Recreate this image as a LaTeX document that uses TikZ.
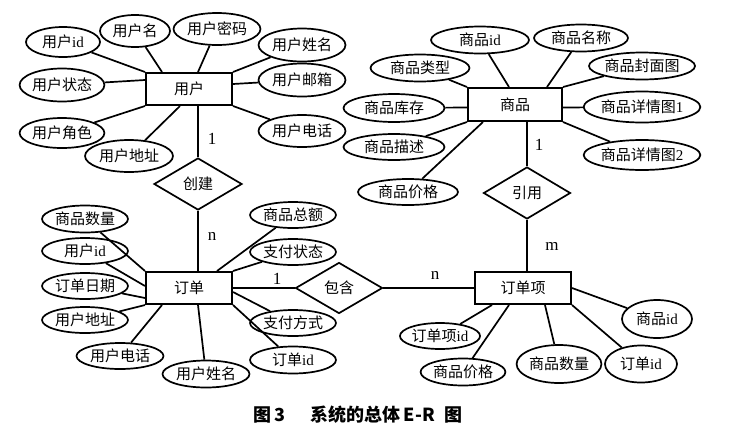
\documentclass[tikz,border=0pt]{standalone}
\usepackage{fontspec}
\setmainfont{Liberation Serif}
\newfontfamily\cjk{Noto Sans CJK SC}
\usetikzlibrary{shapes.geometric,calc}
\tikzset{
 ent/.style 2 args={draw, line width=2pt, minimum width=#1pt, minimum height=#2pt, inner sep=0pt, font=\cjk\fontsize{15}{17}\selectfont},
 attr/.style 2 args={draw, ellipse, line width=1.7pt, minimum width=#1pt, minimum height=#2pt, inner sep=0pt, font=\cjk\fontsize{15}{17}\selectfont},
 rel/.style 2 args={draw, diamond, line width=1.7pt, minimum width=#1pt, minimum height=#2pt, inner sep=0pt, font=\cjk\fontsize{15}{17}\selectfont},
 card/.style={inner sep=0pt, font=\fontsize{17}{19}\selectfont},
 lnk/.style={line width=1.7pt},
 capt/.style={inner sep=0pt, font=\cjk\bfseries\fontsize{18}{20}\selectfont},
}
\begin{document}
\begin{tikzpicture}[x=1pt,y=-1pt]
\useasboundingbox[fill=white] (0,0) rectangle (736,440);
% ---- user
\node[ent={86}{32}] (u) at (189,89) {用户};
\node[attr={74}{30}] (uid) at (63,42) {用户{\rmfamily id}};
\node[attr={70}{32}] (uname) at (135,31) {用户名};
\node[attr={87}{32}] (upwd) at (217,29) {用户密码};
\node[attr={87}{33}] (uxm) at (302,45) {用户姓名};
\node[attr={87}{33}] (uyx) at (302,80) {用户邮箱};
\node[attr={87}{32}] (udh) at (302,131) {用户电话};
\node[attr={76}{33}] (uzt) at (62,85) {用户状态};
\node[attr={76}{30}] (ujs) at (62,133) {用户角色};
\node[attr={88}{32}] (udz) at (129,156) {用户地址};
% ---- goods
\node[ent={94}{33}] (sp) at (515,104.5) {商品};
\node[attr={98}{27}] (spid) at (480,40) {商品{\rmfamily id}};
\node[attr={94}{27}] (spmc) at (581,38) {商品名称};
\node[attr={99}{27}] (splx) at (420,68) {商品类型};
\node[attr={101}{27}] (spfm) at (642,66) {商品封面图};
\node[attr={101}{28}] (spkc) at (394,108) {商品库存};
\node[attr={101}{31}] (spxq1) at (642,107) {商品详情图{\rmfamily 1}};
\node[attr={101}{26}] (spms) at (394,147) {商品描述};
\node[attr={101}{30}] (spxq2) at (642,155) {商品详情图{\rmfamily 2}};
\node[attr={100}{26}] (spjg) at (408,192) {商品价格};
% ---- order
\node[ent={86}{32}] (dd) at (189,288) {订单};
\node[attr={86}{27}] (osl) at (85,219) {商品数量};
\node[attr={86}{26}] (ouid) at (85,251) {用户{\rmfamily id}};
\node[attr={86}{26}] (orq) at (85,286) {订单日期};
\node[attr={86}{26}] (odz) at (85,320) {用户地址};
\node[attr={87}{26}] (odh) at (120,356) {用户电话};
\node[attr={87}{27}] (oxm) at (206,374) {用户姓名};
\node[attr={86}{26}] (oze) at (293,215) {商品总额};
\node[attr={86}{26}] (ozt) at (293,252) {支付状态};
\node[attr={86}{26}] (ofs) at (293,323) {支付方式};
\node[attr={86}{27}] (oid) at (293,360) {订单{\rmfamily id}};
% ---- order item
\node[ent={96}{32}] (dx) at (523,288) {订单项};
\node[attr={70}{38}] (xspid) at (657,319) {商品{\rmfamily id}};
\node[attr={71}{26}] (xid) at (440,336) {订单项{\rmfamily id}};
\node[attr={80}{27}] (xjg) at (463,372) {商品价格};
\node[attr={80}{38}] (xsl) at (559,364) {商品数量};
\node[attr={72}{37}] (xdid) at (641,364) {订单{\rmfamily id}};
% ---- relations
\node[rel={88}{52}] (cj) at (198,184) {创建};
\node[rel={87}{52}] (yy) at (527,193) {引用};
\node[rel={87}{51}] (bh) at (339,288) {包含};
% ---- relation links
\draw[lnk] (cj.north) -- (cj.north |- u.south);
\draw[lnk] (cj.south) -- (cj.south |- dd.north);
\draw[lnk] (yy.north) -- (yy.north |- sp.south);
\draw[lnk] (yy.south) -- (yy.south |- dx.north);
\draw[lnk] (bh.west) -- (bh.west -| dd.east);
\draw[lnk] (bh.east) -- (bh.east -| dx.west);
% cardinalities
\node[card] (c1) at (212,139) {1};
\node[card] (c2) at (212,236) {n};
\node[card] (c3) at (539,145) {1};
\node[card] (c4) at (552,246) {m};
\node[card] (c5) at (277,279) {1};
\node[card] (c6) at (435,275) {n};
% ---- user attributes
\draw[lnk] (u.north west) -- (uid);
\draw[lnk] ([xshift=17pt]u.north west) -- (uname);
\draw[lnk] ([xshift=9pt]u.north) -- (upwd);
\draw[lnk] (u.north east) -- (uxm);
\draw[lnk] ([yshift=5pt]u.east) -- (uyx);
\draw[lnk] (u.south east) -- (udh);
\draw[lnk] ([yshift=9pt]u.west) -- (uzt);
\draw[lnk] (u.south west) -- (ujs);
\draw[lnk] ([xshift=-9pt]u.south) -- (udz);
% ---- goods attributes
\draw[lnk] ([xshift=-6pt]sp.north) -- (spid);
\draw[lnk] ([xshift=32pt]sp.north) -- (spmc);
\draw[lnk] (sp.north west) -- (splx);
\draw[lnk] (sp.north east) -- (spfm);
\draw[lnk] ([yshift=-3pt]sp.west) -- (spkc);
\draw[lnk] ([yshift=-3pt]sp.east) -- (spxq1);
\draw[lnk] (sp.south west) -- (spms);
\draw[lnk] (sp.south east) -- (spxq2);
\draw[lnk] ([xshift=16pt]sp.south west) -- (spjg);
% ---- order attributes
\draw[lnk] (dd.north west) -- (osl);
\draw[lnk] ([yshift=2pt]dd.west) -- (ouid);
\draw[lnk] ([yshift=-10pt]dd.west) -- (orq);
\draw[lnk] (dd.south west) -- (odz);
\draw[lnk] ([xshift=17pt]dd.south west) -- (odh);
\draw[lnk] ([xshift=9pt]dd.south) -- (oxm);
\draw[lnk] ([xshift=28pt]dd.north) -- (oze);
\draw[lnk] (dd.north east) -- (ozt);
\draw[lnk] ([yshift=-4pt]dd.east) -- (ofs);
\draw[lnk] (dd.south east) -- (oid);
% ---- order item attributes
\draw[lnk] (dx.east) -- (xspid);
\draw[lnk] ([xshift=-31pt]dx.south) -- (xid);
\draw[lnk] ([xshift=-14pt]dx.south) -- (xjg);
\draw[lnk] ([xshift=22pt]dx.south) -- (xsl);
\draw[lnk] (dx.south east) -- (xdid);
% ---- caption
\node[capt] (cap) at (358,415) {图\,3\hspace{26pt}系统的总体\,E-R\hspace{10pt}图};
\end{tikzpicture}
\end{document}
